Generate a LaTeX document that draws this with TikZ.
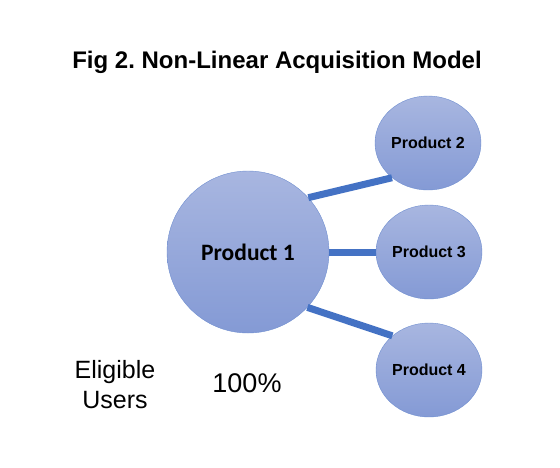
\documentclass[tikz,border=0pt]{standalone}
\usepackage{fontspec}
\setmainfont{Liberation Sans}
\newfontfamily\calibri{Carlito}
\usetikzlibrary{positioning,shapes.geometric}
\frenchspacing
\definecolor{offblue}{RGB}{68,114,196}
\definecolor{bubtop}{RGB}{168,182,224}
\definecolor{bubbot}{RGB}{132,154,213}
\definecolor{bubedge}{RGB}{112,143,208}
\tikzset{
  bub/.style={draw=bubedge,thin,top color=bubtop,bottom color=bubbot,inner sep=0pt},
  mainbub/.style={bub,circle,minimum size=162pt,font=\calibri\bfseries\fontsize{23.5}{28}\selectfont},
  subbub/.style={bub,ellipse,minimum width=106pt,minimum height=94pt,font=\bfseries\fontsize{16}{19}\selectfont},
  link/.style={offblue,line width=7pt},
  lab/.style={font=\fontsize{25}{30}\selectfont,align=center}
}
\begin{document}
\begin{tikzpicture}[x=1pt,y=-1pt]
  \useasboundingbox (0,0) rectangle (560,467);
  \node[font=\bfseries\fontsize{24}{28}\selectfont] (ttl) at (277,62) {Fig 2. Non-Linear Acquisition Model};
  \node[mainbub] (p1) at (248,252) {Product 1};
  \node[subbub] (p2) at (428,143) {Product 2};
  \node[subbub] (p3) at (429,252) {Product 3};
  \node[subbub] (p4) at (429,370) {Product 4};
  \draw[link] (p1.42) -- (p2.224);
  \draw[link] (p1.0) -- (p3.180);
  \draw[link] (p1.-43) -- (p4.137);
  \node[lab] (elig) at (115,385) {Eligible\\Users};
  \node[lab,font=\fontsize{27}{32}\selectfont] (pct) at (247,383) {100\%};
\end{tikzpicture}
\end{document}
